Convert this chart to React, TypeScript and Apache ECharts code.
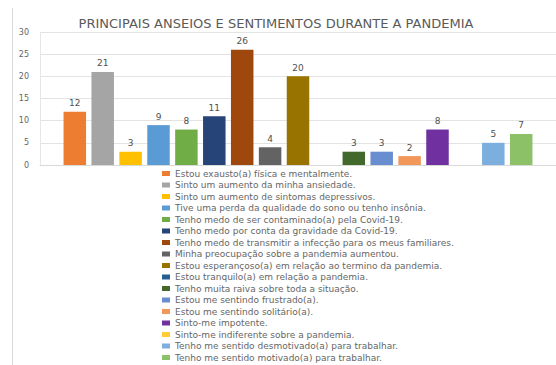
import React, { useEffect, useRef } from "react";
import * as echarts from "echarts";

const titleText = "PRINCIPAIS ANSEIOS E SENTIMENTOS DURANTE A PANDEMIA";
const seriesNames = [
  "Estou exausto(a) física e mentalmente.",
  "Sinto um aumento da minha ansiedade.",
  "Sinto um aumento de sintomas depressivos.",
  "Tive uma perda da qualidade do sono ou tenho insônia.",
  "Tenho medo de ser contaminado(a) pela Covid-19.",
  "Tenho medo por conta da gravidade da Covid-19.",
  "Tenho medo de transmitir a infecção para os meus familiares.",
  "Minha preocupação sobre a pandemia aumentou.",
  "Estou esperançoso(a) em relação ao termino da pandemia.",
  "Estou tranquilo(a) em relação a pandemia.",
  "Tenho muita raiva sobre toda a situação.",
  "Estou me sentindo frustrado(a).",
  "Estou me sentindo solitário(a).",
  "Sinto-me impotente.",
  "Sinto-me indiferente sobre a pandemia.",
  "Tenho me sentido desmotivado(a) para trabalhar.",
  "Tenho me sentido motivado(a) para trabalhar.",
];
const seriesValues = [12, 21, 3, 9, 8, 11, 26, 4, 20, 0, 3, 3, 2, 8, 0, 5, 7];
const seriesColors = [
  "#ED7D31", "#A5A5A5", "#FFC000", "#5B9BD5", "#70AD47", "#264478",
  "#9E480E", "#636363", "#997300", "#255E91", "#43682B", "#698ED0",
  "#F1975A", "#7030A0", "#FFCD33", "#7CAFDD", "#8CC168",
];
const categories = [""];
const yTicks = { min: 0, max: 30, interval: 5 };

export default function App() {
  const ref = useRef<HTMLDivElement>(null);
  useEffect(() => {
    document.body.style.margin = "0";
    const chart = echarts.init(ref.current!, null, { renderer: "svg" });
    const font = "DejaVu Sans";
    chart.setOption({
      animation: false,
      backgroundColor: "#ffffff",
      color: seriesColors,
      title: {
        text: titleText,
        left: 271,
        textAlign: "center",
        top: 12,
        textStyle: { fontFamily: font, fontSize: 13, fontWeight: "normal", color: "#5a5a5a" },
      },
      graphic: [
        { type: "line", shape: { x1: 12.5, y1: 8, x2: 12.5, y2: 365 }, style: { stroke: "#d9d9d9", lineWidth: 1 } },
      ],
      legend: {
        orient: "vertical",
        left: 162,
        top: 169,
        height: 300,
        itemWidth: 8,
        itemHeight: 5,
        itemGap: 2.5,
        padding: 0,
        icon: "rect",
        data: seriesNames,
        textStyle: { fontFamily: font, fontSize: 9, lineHeight: 9, color: "#666666" },
      },
      grid: { left: 40, right: 0, top: 32, bottom: 200, containLabel: false },
      xAxis: {
        type: "category",
        data: categories,
        axisLine: { lineStyle: { color: "#d9d9d9" } },
        axisTick: { show: false },
        axisLabel: { show: false },
      },
      yAxis: {
        type: "value",
        min: yTicks.min,
        max: yTicks.max,
        interval: yTicks.interval,
        axisLine: { show: true, lineStyle: { color: "#e6e6e6" } },
        axisTick: { show: false },
        axisLabel: { fontFamily: font, fontSize: 8, color: "#666666", margin: 11 },
        splitLine: { lineStyle: { color: "#e3e3e3" } },
      },
      series: seriesNames.map((name, i) => ({
        name,
        type: "bar",
        data: [seriesValues[i]],
        barWidth: 22.5,
        barGap: "24%",
        itemStyle: { color: seriesColors[i] },
        label: {
          show: true,
          position: "top",
          distance: 4,
          fontFamily: font,
          fontSize: 9,
          color: "#505050",
          formatter: (p: any) => (p.value ? String(p.value) : ""),
        },
      })),
    });
    return () => chart.dispose();
  }, []);
  return <div ref={ref} style={{ width: 556, height: 365 }} />;
}
